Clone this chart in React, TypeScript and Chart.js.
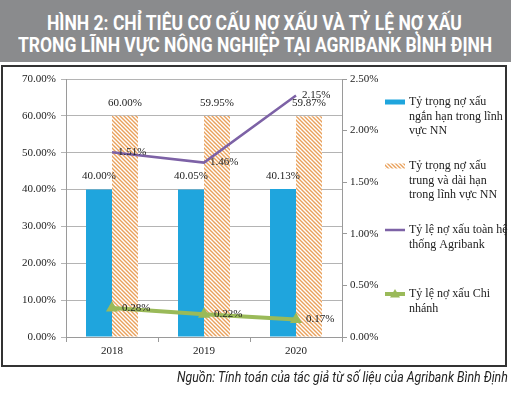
import React, { useEffect, useLayoutEffect, useRef } from "react";
import { Chart, registerables } from "chart.js";

Chart.register(...registerables);

// ---------- data ----------
const years = ["2018", "2019", "2020"];
const shortTermShare = [40.0, 40.05, 40.13];
const longTermShare = [60.0, 59.95, 59.87];
const systemNplPlotted = [1.79, 1.69, 2.34];
const systemNplLabels = ["1.51%", "1.46%", "2.15%"];
const branchNpl = [0.28, 0.22, 0.17];

const legendLines = [
  ["Tỷ trọng nợ xấu", "ngắn hạn trong lĩnh", "vực NN"],
  ["Tỷ trọng nợ xấu", "trung và dài hạn", "trong lĩnh vực NN"],
  ["Tỷ lệ nợ xấu toàn hệ", "thống Agribank"],
  ["Tỷ lệ nợ xấu Chi", "nhánh"],
];

const titleLine1 = "HÌNH 2: CHỈ TIÊU CƠ CẤU NỢ XẤU VÀ TỶ LỆ NỢ XẤU";
const titleLine2 = "TRONG LĨNH VỰC NÔNG NGHIỆP TẠI AGRIBANK BÌNH ĐỊNH";
const sourceText = "Nguồn: Tính toán của tác giả từ số liệu của Agribank Bình Định";

// ---------- styles ----------
const BLUE = "#1fa5dd";
const ORANGE = "#e9a15c";
const PURPLE = "#7d62a6";
const GREEN = "#9aba59";
const GRID = "#b4b4b4";
const AXIS = "#9a9a9a";
const TEXT = "#222";
const SERIF = '"Liberation Serif", "Times New Roman", serif';

function makeHatch(): CanvasPattern | string {
  const c = document.createElement("canvas");
  c.width = 4;
  c.height = 4;
  const g = c.getContext("2d");
  if (!g) return ORANGE;
  g.fillStyle = "#fff";
  g.fillRect(0, 0, 4, 4);
  g.strokeStyle = ORANGE;
  g.lineWidth = 1.4;
  g.beginPath();
  g.moveTo(-1, -1);
  g.lineTo(5, 5);
  g.moveTo(-1, 3);
  g.lineTo(1, 5);
  g.moveTo(3, -1);
  g.lineTo(5, 1);
  g.stroke();
  return g.createPattern(c, "repeat") || ORANGE;
}

function FitText(props: {
  text: string;
  left: number;
  top: number;
  width: number;
  style: React.CSSProperties;
}) {
  const ref = useRef<HTMLSpanElement>(null);
  useLayoutEffect(() => {
    const el = ref.current;
    if (!el) return;
    el.style.transform = "none";
    const w = el.offsetWidth;
    if (w > 0) el.style.transform = `scaleX(${props.width / w})`;
  }, [props.text, props.width]);
  return (
    <span
      ref={ref}
      style={{
        position: "absolute",
        left: props.left,
        top: props.top,
        whiteSpace: "nowrap",
        transformOrigin: "0 0",
        display: "inline-block",
        ...props.style,
      }}
    >
      {props.text}
    </span>
  );
}

export default function App() {
  const canvasRef = useRef<HTMLCanvasElement>(null);

  useEffect(() => {
    const canvas = canvasRef.current;
    if (!canvas) return;
    const hatch = makeHatch();
    const font = { family: SERIF, size: 11 };

    const valueLabels = {
      id: "valueLabels",
      afterDatasetsDraw(chart: any) {
        const ctx = chart.ctx;
        ctx.save();
        ctx.font = `11px ${SERIF}`;
        ctx.fillStyle = TEXT;
        chart.data.datasets.forEach((ds: any, di: number) => {
          const meta = chart.getDatasetMeta(di);
          const texts: string[] = ds.labelTexts;
          meta.data.forEach((el: any, i: number) => {
            const { x, y } = el.getProps(["x", "y"], true);
            if (meta.type === "bar") {
              ctx.textAlign = "center";
              ctx.textBaseline = "middle";
              ctx.fillText(texts[i], x, y - 13);
            } else {
              ctx.textAlign = "left";
              ctx.textBaseline = "middle";
              ctx.fillText(texts[i], x + ds.labelOffset, y);
            }
          });
        });
        ctx.restore();
      },
    };

    const legendPlugin = {
      id: "customLegend",
      afterDraw(chart: any) {
        const ctx = chart.ctx;
        const area = chart.chartArea;
        const sx = area.right + 43;
        const tx = sx + 24;
        const lh = 14.5;
        ctx.save();
        ctx.font = `12px ${SERIF}`;
        ctx.fillStyle = TEXT;
        ctx.textAlign = "left";
        ctx.textBaseline = "middle";
        legendLines.forEach((lines, i) => {
          const y = area.top + 23 + i * 64;
          if (i === 0) {
            ctx.fillStyle = BLUE;
            ctx.fillRect(sx, y - 2.5, 20, 5);
          } else if (i === 1) {
            ctx.fillStyle = hatch as any;
            ctx.fillRect(sx, y - 2.5, 20, 5);
          } else if (i === 2) {
            ctx.strokeStyle = PURPLE;
            ctx.lineWidth = 2.5;
            ctx.beginPath();
            ctx.moveTo(sx, y);
            ctx.lineTo(sx + 20, y);
            ctx.stroke();
          } else {
            ctx.strokeStyle = GREEN;
            ctx.lineWidth = 4;
            ctx.beginPath();
            ctx.moveTo(sx, y);
            ctx.lineTo(sx + 20, y);
            ctx.stroke();
            ctx.fillStyle = GREEN;
            ctx.beginPath();
            ctx.moveTo(sx + 10, y - 5);
            ctx.lineTo(sx + 15, y + 3.5);
            ctx.lineTo(sx + 5, y + 3.5);
            ctx.closePath();
            ctx.fill();
          }
          ctx.fillStyle = TEXT;
          lines.forEach((t, j) => ctx.fillText(t, tx, y + j * lh));
        });
        ctx.restore();
      },
    };

    const chart = new Chart(canvas, {
      type: "bar",
      data: {
        labels: years,
        datasets: [
          {
            type: "line",
            label: "Tỷ lệ nợ xấu toàn hệ thống Agribank",
            data: systemNplPlotted,
            yAxisID: "y1",
            borderColor: PURPLE,
            backgroundColor: PURPLE,
            borderWidth: 2.5,
            pointRadius: 0,
            tension: 0,
            order: 0,
            labelTexts: systemNplLabels,
            labelOffset: 6,
          } as any,
          {
            type: "line",
            label: "Tỷ lệ nợ xấu Chi nhánh",
            data: branchNpl,
            yAxisID: "y1",
            borderColor: GREEN,
            backgroundColor: GREEN,
            borderWidth: 4,
            pointStyle: "triangle",
            pointRadius: 7,
            pointBorderWidth: 0,
            tension: 0,
            order: 0,
            labelTexts: branchNpl.map((v) => v.toFixed(2) + "%"),
            labelOffset: 10,
          } as any,
          {
            type: "bar",
            label: "Tỷ trọng nợ xấu ngắn hạn trong lĩnh vực NN",
            data: shortTermShare,
            yAxisID: "y",
            backgroundColor: BLUE,
            borderWidth: 0,
            categoryPercentage: 0.565,
            barPercentage: 1.0,
            order: 1,
            labelTexts: shortTermShare.map((v) => v.toFixed(2) + "%"),
          } as any,
          {
            type: "bar",
            label: "Tỷ trọng nợ xấu trung và dài hạn trong lĩnh vực NN",
            data: longTermShare,
            yAxisID: "y",
            backgroundColor: hatch,
            borderWidth: 0,
            categoryPercentage: 0.565,
            barPercentage: 1.0,
            order: 1,
            labelTexts: longTermShare.map((v) => v.toFixed(2) + "%"),
          } as any,
        ],
      },
      options: {
        animation: false,
        responsive: false,
        maintainAspectRatio: false,
        layout: { padding: { left: 0, top: 79, right: 124, bottom: 36 } },
        plugins: {
          legend: { display: false },
          tooltip: { enabled: false },
        },
        scales: {
          x: {
            grid: {
              display: true,
              drawOnChartArea: false,
              drawTicks: true,
              tickLength: 5,
              color: AXIS,
              offset: true,
            },
            border: { display: true, color: AXIS },
            ticks: { font, color: TEXT, padding: 3 },
            afterFit: (s: any) => {
              s.height = 25;
            },
          },
          y: {
            position: "left",
            min: 0,
            max: 70,
            ticks: {
              stepSize: 10,
              font,
              color: TEXT,
              padding: 5,
              callback: (v: any) => Number(v).toFixed(2) + "%",
            },
            grid: { color: GRID, tickLength: 5 },
            border: { display: true, color: AXIS },
            afterFit: (s: any) => {
              s.width = 66;
            },
          },
          y1: {
            position: "right",
            min: 0,
            max: 2.5,
            ticks: {
              stepSize: 0.5,
              font,
              color: TEXT,
              padding: 3,
              callback: (v: any) => Number(v).toFixed(2) + "%",
            },
            grid: { drawOnChartArea: false, tickLength: 5, color: AXIS },
            border: { display: true, color: AXIS },
            afterFit: (s: any) => {
              s.width = 45;
            },
          },
        },
      } as any,
      plugins: [valueLabels, legendPlugin],
    });

    return () => chart.destroy();
  }, []);

  const titleStyle: React.CSSProperties = {
    fontFamily: "Roboto, 'Open Sans', sans-serif",
    fontWeight: 700,
    fontSize: 20,
    lineHeight: "20px",
    color: "#fff",
  };

  return (
    <div
      style={{
        position: "fixed",
        left: 0,
        top: 0,
        width: 511,
        height: 398,
        background: "#fff",
        overflow: "hidden",
      }}
    >
      <div
        style={{
          position: "absolute",
          left: 0,
          top: 0,
          width: 511,
          height: 62,
          background: "#8a8b8d",
        }}
      />
      <FitText text={titleLine1} left={47} top={12.5} width={415} style={titleStyle} />
      <FitText text={titleLine2} left={18} top={35} width={474} style={titleStyle} />
      <div
        style={{
          position: "absolute",
          left: 1,
          top: 65,
          width: 502,
          height: 298,
          border: "2px solid #333",
        }}
      />
      <canvas
        ref={canvasRef}
        width={511}
        height={398}
        style={{ position: "absolute", left: 0, top: 0, width: 511, height: 398 }}
      />
      <FitText
        text={sourceText}
        left={177}
        top={370}
        width={331}
        style={{
          fontFamily: "Roboto, 'Open Sans', sans-serif",
          fontStyle: "italic",
          fontSize: 15,
          lineHeight: "15px",
          color: "#222",
        }}
      />
    </div>
  );
}
